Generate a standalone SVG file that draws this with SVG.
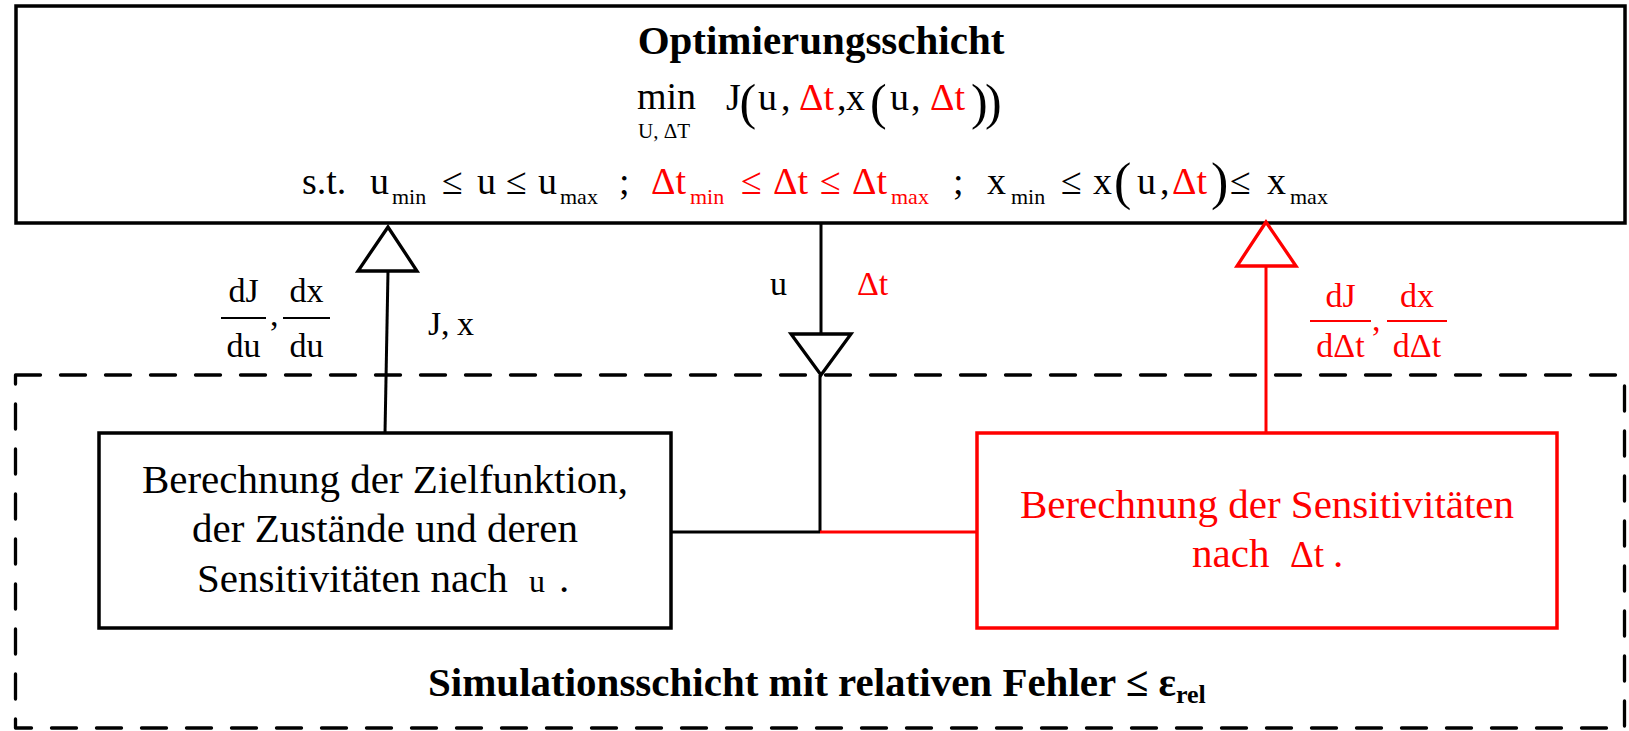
<svg xmlns="http://www.w3.org/2000/svg" width="1629" height="731" viewBox="0 0 1629 731">
<style>
text{font-family:"Liberation Serif","Times New Roman",serif;fill:#000}
.r{fill:#ff0000}
.b{font-weight:bold}
.box{fill:#fff;stroke:#000;stroke-width:3.5}
.rbox{fill:#fff;stroke:#ff0000;stroke-width:3.5}
.ln{stroke:#000;stroke-width:3;fill:none}
.rln{stroke:#ff0000;stroke-width:3;fill:none}
.tri{fill:#fff;stroke:#000;stroke-width:3.3;stroke-linejoin:miter}
.rtri{fill:#fff;stroke:#ff0000;stroke-width:3.3;stroke-linejoin:miter}
.bar{stroke:#000;stroke-width:2}
.rbar{stroke:#ff0000;stroke-width:2}
.m{font-size:38px}
.s{font-size:22px}
.p{font-size:50px}
.lab{font-size:34px}
.t{font-size:41px}
</style>

<g id="simulation-layer">
<rect x="15.5" y="375" width="1609" height="353" fill="none" stroke="#000" stroke-width="3.3" stroke-dasharray="25 20" stroke-linecap="round" stroke-linejoin="round"/>
<text class="b" x="428" y="696" font-size="41">Simulationsschicht mit relativen Fehler ≤ ε<tspan font-size="26" y="703">rel</tspan></text>
</g>

<g id="optimization-layer">
<rect class="box" x="16" y="6" width="1609" height="217"/>
<text class="b" x="821" y="54" font-size="41" text-anchor="middle">Optimierungsschicht</text>
<text class="m"><tspan x="637" y="109">min</tspan><tspan font-size="21px" x="638" y="138">U, ΔT</tspan><tspan x="726" y="110">J</tspan><tspan class="p" x="739.5" y="119">(</tspan><tspan x="758" y="110">u</tspan><tspan x="781" y="110">,</tspan><tspan class="r" x="799" y="110">Δt</tspan><tspan x="837" y="110">,</tspan><tspan x="846" y="110">x</tspan><tspan class="p" x="870" y="119">(</tspan><tspan x="890" y="110">u</tspan><tspan x="911" y="110">,</tspan><tspan class="r" x="930" y="110">Δt</tspan><tspan class="p" x="971" y="119">)</tspan><tspan class="p" x="985" y="119">)</tspan></text>
<text class="m"><tspan x="302" y="194">s.t.</tspan><tspan x="370" y="194">u</tspan><tspan class="s" x="392" y="204">min</tspan><tspan x="442" y="194">≤</tspan><tspan x="477" y="194">u</tspan><tspan x="506" y="194">≤</tspan><tspan x="538" y="194">u</tspan><tspan class="s" x="560" y="204">max</tspan><tspan x="619" y="194">;</tspan><tspan class="r" x="651" y="194">Δt</tspan><tspan class="r s" x="690" y="204">min</tspan><tspan class="r" x="741" y="194">≤</tspan><tspan class="r" x="773" y="194">Δt</tspan><tspan class="r" x="820" y="194">≤</tspan><tspan class="r" x="852" y="194">Δt</tspan><tspan class="r s" x="891" y="204">max</tspan><tspan x="953" y="194">;</tspan><tspan x="987" y="194">x</tspan><tspan class="s" x="1011" y="204">min</tspan><tspan x="1061" y="194">≤</tspan><tspan x="1093" y="194">x</tspan><tspan font-size="52px" x="1114" y="199">(</tspan><tspan x="1137" y="194">u</tspan><tspan x="1160" y="194">,</tspan><tspan class="r" x="1172" y="194">Δt</tspan><tspan font-size="52px" x="1211" y="199">)</tspan><tspan x="1230" y="194">≤</tspan><tspan x="1267" y="194">x</tspan><tspan class="s" x="1290" y="204">max</tspan></text>
</g>

<g id="objective-node">
<rect class="box" x="99" y="433" width="572" height="195"/>
<text class="t" x="385" y="493" text-anchor="middle">Berechnung der Zielfunktion,</text>
<text class="t" x="385" y="542" text-anchor="middle">der Zustände und deren</text>
<text class="t"><tspan x="197" y="592">Sensitivitäten nach</tspan><tspan font-size="32px" x="529" y="592">u</tspan><tspan x="559" y="592">.</tspan></text>
</g>

<g id="sensitivity-node">
<rect class="rbox" x="977" y="433" width="580" height="195"/>
<text class="t r" x="1267" y="518" text-anchor="middle">Berechnung der Sensitivitäten</text>
<text class="t r"><tspan x="1192" y="567">nach</tspan><tspan font-size="37px" x="1290" y="567">Δt</tspan><tspan x="1333" y="567">.</tspan></text>
</g>

<g id="connectors">
<line class="ln" x1="385" y1="433" x2="388" y2="271"/>
<polygon class="tri" points="388,227 358,271 417,271"/>
<line class="ln" x1="821" y1="224" x2="821" y2="334"/>
<polygon class="tri" points="791,334 851,334 821,375"/>
<line class="ln" x1="820" y1="375" x2="820" y2="532"/>
<line class="ln" x1="671" y1="532" x2="820" y2="532"/>
<line class="rln" x1="820" y1="532" x2="977" y2="532"/>
<line class="rln" x1="1266" y1="433" x2="1266" y2="266"/>
<polygon class="rtri" points="1266,222 1237,266 1296,266"/>

<g id="label-left">
<text class="lab" x="243.5" y="302" text-anchor="middle">dJ</text>
<line class="bar" x1="221" y1="318" x2="266" y2="318"/>
<text class="lab" x="243.5" y="357" text-anchor="middle">du</text>
<text class="lab" x="270" y="326">,</text>
<text class="lab" x="306.5" y="302" text-anchor="middle">dx</text>
<line class="bar" x1="283" y1="318" x2="330" y2="318"/>
<text class="lab" x="306.5" y="357" text-anchor="middle">du</text>
</g>
<text class="lab"><tspan x="428" y="335">J</tspan><tspan x="441" y="335">,</tspan><tspan x="457" y="335">x</tspan></text>
<text class="lab" x="770" y="295">u</text>
<text class="lab r" x="857" y="295">Δt</text>
<g id="label-right">
<text class="lab r" x="1340.5" y="307" text-anchor="middle">dJ</text>
<line class="rbar" x1="1310" y1="321" x2="1371" y2="321"/>
<text class="lab r" x="1340.5" y="357" text-anchor="middle">dΔt</text>
<text class="lab r" x="1372" y="331">,</text>
<text class="lab r" x="1417" y="307" text-anchor="middle">dx</text>
<line class="rbar" x1="1387" y1="321" x2="1447" y2="321"/>
<text class="lab r" x="1417" y="357" text-anchor="middle">dΔt</text>
</g>
</g>
</svg>
